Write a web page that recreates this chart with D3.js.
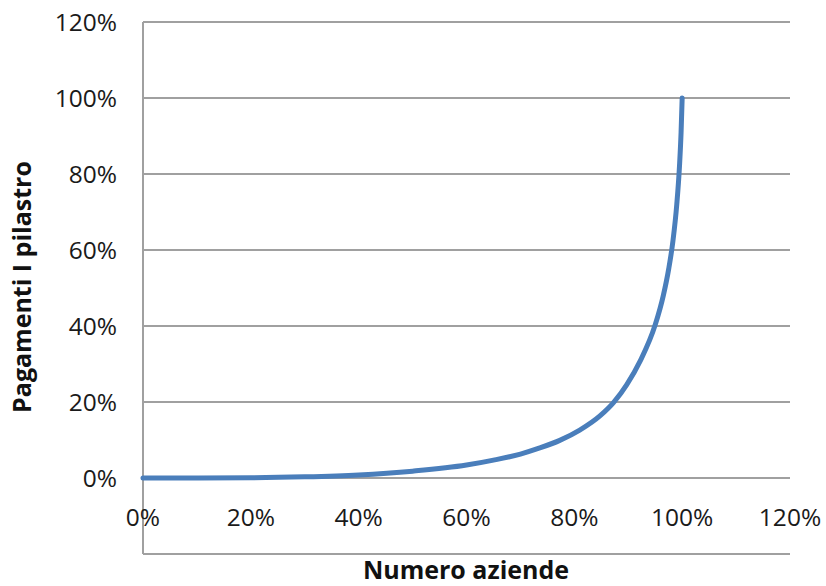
<!DOCTYPE html>
<html><head><meta charset="utf-8">
<script src="https://cdn.jsdelivr.net/npm/d3@7"></script>
<style>body{margin:0;background:#fff}svg{display:block}</style>
</head><body>
<svg id="c" width="826" height="586"></svg>
<script>
const xValues = [0, 0.1, 0.2, 0.3, 0.4, 0.5, 0.6, 0.65, 0.7, 0.736, 0.773, 0.81, 0.848, 0.873, 0.897, 0.922, 0.95, 0.965, 0.975, 0.983, 0.99, 0.995, 0.998, 1.0];
const yValues = [0, 0, 0.0005, 0.003, 0.008, 0.018, 0.034, 0.047, 0.063, 0.079, 0.099, 0.126, 0.164, 0.199, 0.245, 0.3075, 0.403, 0.48, 0.55, 0.625, 0.72, 0.82, 0.91, 1.0];
const xTicks = [0, 0.2, 0.4, 0.6, 0.8, 1.0, 1.2];
const yTicks = [0, 0.2, 0.4, 0.6, 0.8, 1.0, 1.2];
const xTitle = "Numero aziende";
const yTitle = "Pagamenti I pilastro";

const svg = d3.select("#c");
const font = "'Open Sans', sans-serif";
const x = d3.scaleLinear().domain([0, 1.2]).range([143, 790]);
const y = d3.scaleLinear().domain([-0.2, 1.2]).range([554, 22]);
const fmt = d => Math.round(d * 100) + "%";
const grid = "#a0a0a0";

// gridlines
svg.append("g").selectAll("line").data(yTicks).join("line")
  .attr("x1", x(0)).attr("x2", x(1.2))
  .attr("y1", d => y(d)).attr("y2", d => y(d))
  .attr("stroke", grid).attr("stroke-width", 2);
// bottom border
svg.append("line").attr("x1", x(0)).attr("x2", x(1.2)).attr("y1", y(-0.2)).attr("y2", y(-0.2))
  .attr("stroke", grid).attr("stroke-width", 2);
// left axis
svg.append("line").attr("x1", x(0)).attr("x2", x(0)).attr("y1", y(1.2)).attr("y2", y(-0.2))
  .attr("stroke", grid).attr("stroke-width", 2);

// y tick labels
svg.append("g").selectAll("text").data(yTicks).join("text")
  .attr("x", 117).attr("y", d => y(d)).attr("dy", "0.36em")
  .attr("text-anchor", "end").attr("font-family", font).attr("font-size", 24.5).attr("fill", "#1a1a1a")
  .text(fmt);
// x tick labels
svg.append("g").selectAll("text").data(xTicks).join("text")
  .attr("x", d => x(d)).attr("y", 526)
  .attr("text-anchor", "middle").attr("font-family", font).attr("font-size", 24.5).attr("fill", "#1a1a1a")
  .text(fmt);

// line
const line = d3.line().x((d, i) => x(xValues[i])).y(d => y(d)).curve(d3.curveMonotoneX);
svg.append("path").datum(yValues).attr("d", line)
  .attr("fill", "none").attr("stroke", "#4a7ebb").attr("stroke-width", 5)
  .attr("stroke-linecap", "round").attr("stroke-linejoin", "round");

// titles
svg.append("text").attr("x", 466).attr("y", 579).attr("text-anchor", "middle")
  .attr("font-family", font).attr("font-weight", "bold").attr("font-size", 25).attr("fill", "#111")
  .text(xTitle);
svg.append("text").attr("transform", "translate(31,287) rotate(-90)").attr("text-anchor", "middle")
  .attr("font-family", font).attr("font-weight", "bold").attr("font-size", 25).attr("fill", "#111")
  .text(yTitle);
</script>
</body></html>
